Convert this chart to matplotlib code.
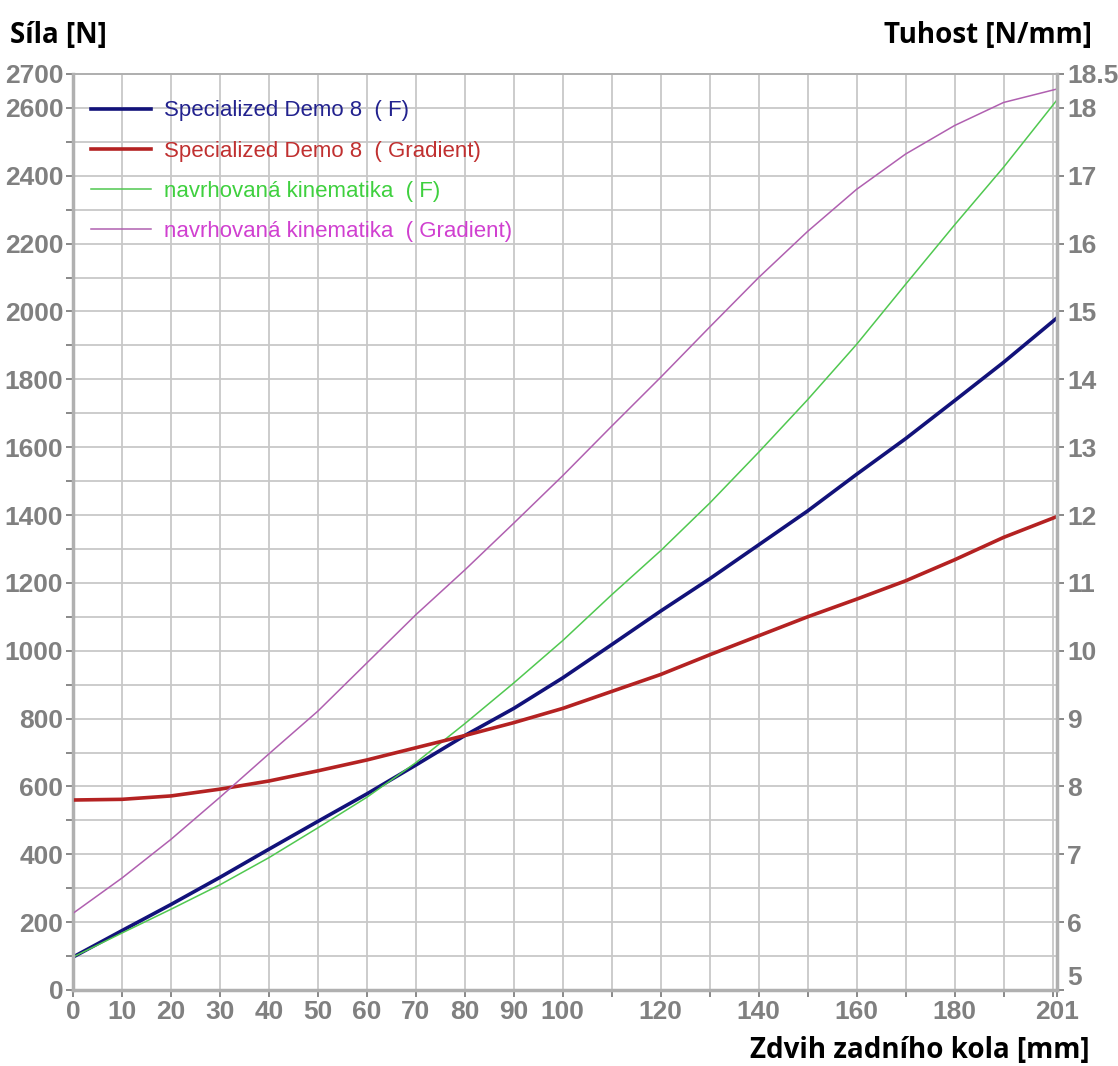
import matplotlib
matplotlib.use("Agg")
import matplotlib.pyplot as plt

# zdvih zadniho kola [mm]
zdvih = [0, 10, 20, 30, 40, 50, 60, 70, 80, 90, 100, 110, 120, 130, 140, 150, 160, 170, 180, 190, 201]

# sila [N] - leva osa
demo_F = [97, 175, 252, 332, 415, 497, 578, 663, 750, 830, 920, 1018, 1117, 1212, 1312, 1412, 1520, 1625, 1737, 1850, 1982]
navrh_F = [97, 168, 238, 310, 390, 478, 568, 670, 785, 905, 1030, 1165, 1295, 1435, 1585, 1740, 1903, 2080, 2255, 2425, 2625]

# tuhost [N/mm] - prava osa
demo_grad = [7.80, 7.81, 7.86, 7.96, 8.08, 8.23, 8.39, 8.57, 8.75, 8.94, 9.15, 9.40, 9.65, 9.94, 10.22, 10.50, 10.76, 11.03, 11.34, 11.67, 11.98]
navrh_grad = [6.13, 6.65, 7.22, 7.84, 8.48, 9.11, 9.82, 10.53, 11.19, 11.88, 12.58, 13.31, 14.03, 14.77, 15.50, 16.18, 16.80, 17.32, 17.74, 18.08, 18.28]

x_ticks = [0, 10, 20, 30, 40, 50, 60, 70, 80, 90, 100, 120, 140, 160, 180, 201]
y_ticks = [0, 200, 400, 600, 800, 1000, 1200, 1400, 1600, 1800, 2000, 2200, 2400, 2600, 2700]
y2_ticks = [5, 6, 7, 8, 9, 10, 11, 12, 13, 14, 15, 16, 17, 18, 18.5]

seda = "#808080"
mrizka = "#c8c8c8"

plt.rcParams['font.family'] = ['Liberation Sans', 'DejaVu Sans']

fig = plt.figure(figsize=(11.18, 10.66), dpi=100)
ax = fig.add_axes([0.0653, 0.0713, 0.8805, 0.8593])
ax2 = ax.twinx()

l1, = ax.plot(zdvih, demo_F, color="#12127a", lw=2.6, label="Specialized Demo 8  ( F)")
l3, = ax.plot(zdvih, navrh_F, color="#50c850", lw=1.1, label="navrhovaná kinematika  ( F)")
l2, = ax2.plot(zdvih, demo_grad, color="#b42222", lw=2.6, label="Specialized Demo 8  ( Gradient)")
l4, = ax2.plot(zdvih, navrh_grad, color="#b060b0", lw=1.1, label="navrhovaná kinematika  ( Gradient)")

ax.set_xlim(0, 201)
ax.set_ylim(0, 2700)
ax2.set_ylim(5, 18.5)

ax.set_xticks(x_ticks)
ax.set_xticks([110, 130, 150, 170, 190, 200], minor=True)
ax.set_yticks(y_ticks)
ax.set_yticks(range(100, 2700, 200), minor=True)
ax2.set_yticks(y2_ticks)
ax2.set_yticklabels(["5", "6", "7", "8", "9", "10", "11", "12", "13", "14", "15", "16", "17", "18", "18.5"])

ax.grid(True, which="both", color=mrizka, lw=1.3)
ax.set_axisbelow(True)

for a in (ax, ax2):
    a.tick_params(which="both", colors=seda, labelsize=19, length=5, width=1.3, pad=2)
    for t in a.get_xticklabels() + a.get_yticklabels():
        t.set_fontweight("bold")
    for s in a.spines.values():
        s.set_color("#b0b0b0")
        s.set_linewidth(1.3)
ax.spines["left"].set_linewidth(2.5)
ax.spines["bottom"].set_linewidth(2.5)
ax2.spines["right"].set_linewidth(2.5)

# popisek "5" trochu nahoru, at se nepere s "201"
ax2.get_yticklabels()[0].set_verticalalignment("bottom")

ax2.legend(handles=[l1, l2, l3, l4], loc="upper left", bbox_to_anchor=(-0.002, 0.993),
           frameon=False, fontsize=16, handlelength=2.7, handletextpad=0.6,
           labelspacing=0.86, labelcolor=["#22228e", "#c03030", "#3fd03f", "#d040d0"])

nadpis = dict(fontsize=20, fontweight="bold", family=["Open Sans", "DejaVu Sans"], va="center")
fig.text(0.009, 0.967, "Síla [N]", ha="left", **nadpis)
fig.text(0.977, 0.967, "Tuhost [N/mm]", ha="right", **nadpis)
fig.text(0.975, 0.015, "Zdvih zadního kola [mm]", ha="right", **nadpis)

fig.savefig("out.png", dpi=100, facecolor="white")
